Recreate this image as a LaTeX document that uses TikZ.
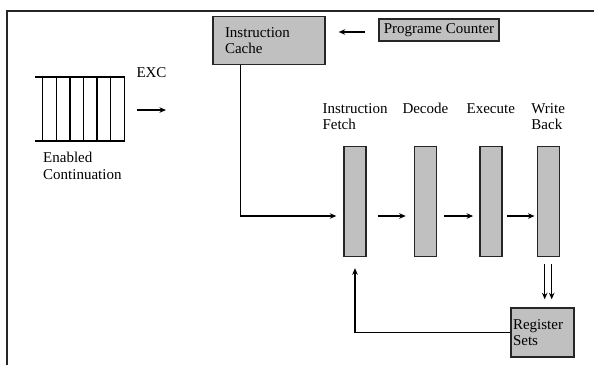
\documentclass[tikz,border=0pt]{standalone}
\usepackage{fontspec}
\setmainfont{Liberation Serif}
\usepackage{xcolor}
\usepackage{tikz}
\usetikzlibrary{arrows.meta, positioning, calc}
\definecolor{boxgray}{RGB}{192,192,192}

\begin{document}
\begin{tikzpicture}[
    x=1pt, y=-1pt,
    font=\fontsize{15}{16.5}\selectfont,
    >={Stealth[length=6.5pt,width=5.5pt]},
    graybox/.style={rectangle, draw=black!85, fill=boxgray, line width=1.4pt, align=left},
    stage/.style={graybox, minimum width=22pt, minimum height=110pt, inner sep=0pt},
    stagelabel/.style={anchor=north, align=left, inner sep=1pt},
    arrow/.style={->, line width=1.5pt},
    frameline/.style={line width=1.4pt, black!85},
]
    \useasboundingbox (0,0) rectangle (594,365);

    % Frame
    \draw[frameline] (7,365) |- (594,11);

    % Cache and counter
    \node[graybox, text width=88pt, inner xsep=12pt, minimum height=48pt] (cache) at (269,40.5) {Instruction\\Cache};
    \node[graybox, minimum width=120pt, minimum height=22pt, inner sep=2pt] (pc) at (439,30) {Programe Counter};

    % Enabled continuation queue
    \draw[line width=1.3pt] (35,77) -- (125,77) (35,141) -- (125,141);
    \foreach \i in {0,...,6}
        \draw[line width=1.3pt] ({42.7+13.6*\i},77) -- ({42.7+13.6*\i},141);
    \node[anchor=north west, align=left, inner sep=1pt] (enabled) at (42,151) {Enabled\\Continuation};
    \node (exc) at (151.5,73) {EXC};
    \coordinate (excin) at (137,110);
    \coordinate (excout) at (166,110);

    % Pipeline stages
    \node[stage] (fetch) at (355,201.5) {};
    \node[stage, right=47pt of fetch] (decode) {};
    \node[stage, right=42pt of decode] (execute) {};
    \node[stage, right=34pt of execute] (wb) {};
    \coordinate (top) at (0,102);
    \node[stagelabel] (fetchlbl) at (fetch |- top) {Instruction\\Fetch};
    \node[stagelabel] (decodelbl) at (decode |- top) {Decode};
    \node[stagelabel] (executelbl) at (execute |- top) {Execute};
    \node[stagelabel] (wblbl) at (wb |- top) {Write\\Back};

    % Register sets
    \node[graybox, text width=59pt, inner xsep=2pt, minimum height=49pt] (reg) at (542.5,332.5) {Register\\Sets};

    % Connectors
    \draw[arrow] (excin) -- (excout);
    \draw[arrow] ($(pc.west)+(-13,2)$) -- ($(cache.east |- pc.west)+(13,2)$);
    \draw[arrow] ([xshift=28pt]cache.south west) |- ([xshift=-7pt,yshift=-14.5pt]fetch.west);
    \draw[arrow, shorten <=11pt, shorten >=8pt] ([yshift=-14.5pt]fetch.east) -- ([yshift=-14.5pt]decode.west);
    \draw[arrow, shorten <=7pt, shorten >=6pt] ([yshift=-14.5pt]decode.east) -- ([yshift=-14.5pt]execute.west);
    \draw[arrow, shorten <=4pt, shorten >=2pt] ([yshift=-14.5pt]execute.east) -- ([yshift=-14.5pt]wb.west);
    \draw[arrow, shorten <=7pt, shorten >=8pt] ([xshift=-3.5pt]wb.south) -- ([xshift=-3.5pt]wb.south |- reg.north);
    \draw[arrow, shorten <=7pt, shorten >=8pt] ([xshift=3.5pt]wb.south) -- ([xshift=3.5pt]wb.south |- reg.north);
    \draw[arrow, shorten >=11pt] (reg.west) -| (fetch.south);
\end{tikzpicture}
\end{document}
